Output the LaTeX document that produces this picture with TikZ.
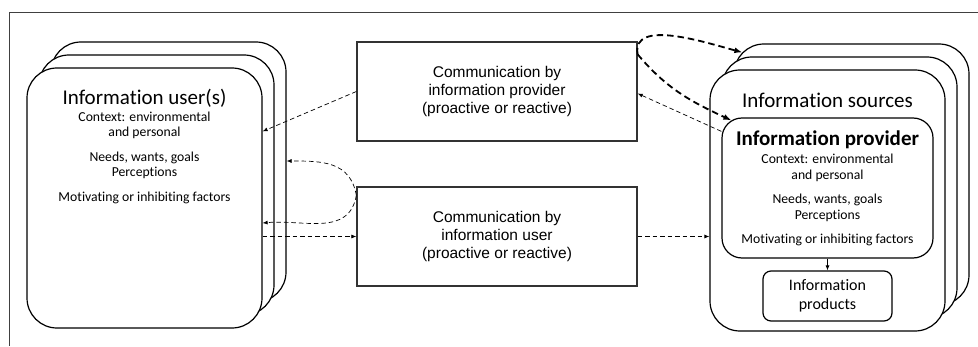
\documentclass[tikz,border=0pt]{standalone}
\usepackage{fontspec}
\setmainfont{Carlito}[Ligatures=NoCommon]
\newfontfamily\arialfont{Liberation Sans}
\usepackage{tikz}
\usetikzlibrary{calc,positioning,arrows.meta}

\tikzset{
  card/.style={draw=black, line width=1.2pt, rounded corners=30pt, fill=white,
    inner sep=0pt, minimum width=235pt, minimum height=260pt},
  commbox/.style={draw=black!80, line width=1.3pt, minimum width=280pt,
    minimum height=99pt, align=center, font=\arialfont\fontsize{15.5}{18}\selectfont},
  link/.style={dash pattern=on 4.5pt off 3pt, line width=0.7pt,
    -{Latex[length=5pt,width=4pt]}},
  boldlink/.style={dash pattern=on 6.5pt off 4pt, line width=1.8pt,
    -{Latex[length=8pt,width=6pt]}},
}

\begin{document}
\begin{tikzpicture}[x=1pt,y=1pt]
\useasboundingbox (0,0) rectangle (978,346);
\draw[line width=0.9pt, black!75] (978,334) -- (9,334) -- (9,0);

\node[card] (user3) at (168.5,174) {};
\node[card] (user2) at (156.5,161) {};
\node[card] (user) at (144.5,148) {};
\node[font=\fontsize{21}{24}\selectfont] (usertitle) at (144.5,248) {Information user(s)};
\node[align=center, font=\fontsize{13.7}{15}\selectfont] (userbody) at (144.5,188)
  {Context: environmental\\and personal\\[10pt]Needs, wants, goals\\Perceptions\\[10pt]Motivating or inhibiting factors};

\node[commbox] (byprov) at (497,254.5) {Communication by\\information provider\\(proactive or reactive)};
\node[commbox] (byuser) at (497,109.5) {Communication by\\information user\\(proactive or reactive)};

\node[card, minimum height=261pt] (src3) at (851.5,171.5) {};
\node[card, minimum height=261pt] (src2) at (839.5,158.5) {};
\node[card, minimum height=261pt] (src) at (827.5,145.5) {};
\node[font=\fontsize{21}{24}\selectfont] (srctitle) at (827.5,246) {Information sources};
\node[draw, line width=1.2pt, rounded corners=20pt, fill=white, minimum width=211pt,
  minimum height=140pt] (prov) at (827.5,158) {};
\node[font=\bfseries\fontsize{21}{24}\selectfont] (provtitle) at (827.5,206) {Information provider};
\node[align=center, font=\fontsize{13.7}{16}\selectfont] (provbody) at (827.5,146)
  {Context: environmental\\and personal\\[8pt]Needs, wants, goals\\Perceptions\\[8pt]Motivating or inhibiting factors};
\node[draw, line width=1.2pt, rounded corners=8pt, minimum width=129pt, minimum height=50pt,
  align=center, font=\fontsize{16}{19}\selectfont] (prod) at (827.5,50) {Information\\products};
\draw[-{Latex[length=5pt,width=4pt]}, line width=0.8pt] (prov) -- (prod);

\draw[link] (byprov.west) -- ([yshift=-64pt]user.north east);
\draw[link] ([yshift=-9pt]byuser.north west) to[out=100,in=0,looseness=1.15] ([yshift=11pt]user3.east);
\draw[link] ([yshift=-9pt]byuser.north west) to[out=260,in=5,looseness=1.1] ([yshift=-25pt]user.east);
\draw[link] (user.east |- byuser.west) -- (byuser.west);
\draw[link] (byuser.east) -- (src.west |- byuser.east);
\draw[link] ([yshift=-14pt]prov.north west) -- ([yshift=-2pt]byprov.east);
\draw[boldlink] ([yshift=-13pt]byprov.north east) to[out=100,in=165,looseness=0.9] ($(src3.north west)+(9,-9)$);
\draw[boldlink] ([yshift=-13pt]byprov.north east) to[out=-50,in=155] ($(prov.north west)+(10,-3)$);
\end{tikzpicture}
\end{document}
